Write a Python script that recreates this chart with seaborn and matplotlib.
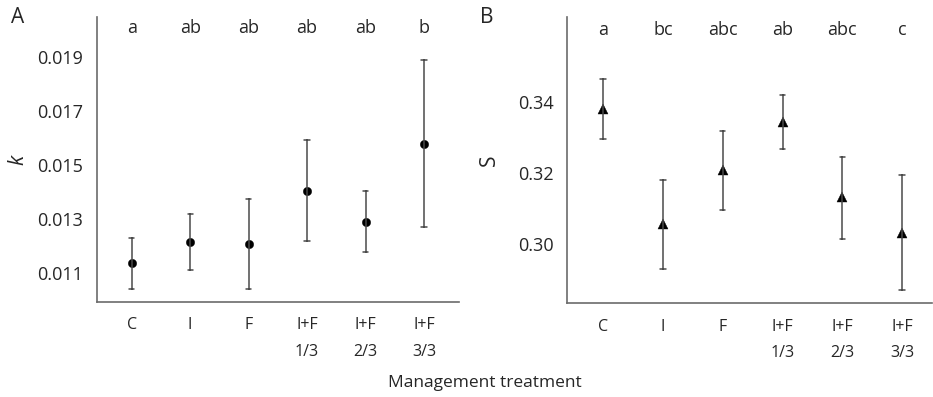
import pandas as pd
import matplotlib.pyplot as plt
import matplotlib.transforms as mtransforms
import seaborn as sns

# -----------------------------
# Data
# -----------------------------
treatments = ["C", "I", "F", "I+F\n1/3", "I+F\n2/3", "I+F\n3/3"]

k_mean = [0.01137, 0.01214, 0.01207, 0.01405, 0.01290, 0.01578]
k_low = [0.01043, 0.01111, 0.01041, 0.01218, 0.01179, 0.01270]
k_high = [0.01231, 0.01320, 0.01374, 0.01593, 0.01404, 0.01886]
k_letters = ["a", "ab", "ab", "ab", "ab", "b"]

s_mean = [0.3381, 0.3055, 0.3208, 0.3345, 0.3131, 0.3031]
s_low = [0.3296, 0.2928, 0.3094, 0.3268, 0.3014, 0.2868]
s_high = [0.3466, 0.3180, 0.3317, 0.3419, 0.3245, 0.3194]
s_letters = ["a", "bc", "abc", "ab", "abc", "c"]

k_ticks = [0.011, 0.013, 0.015, 0.017, 0.019]
s_ticks = [0.30, 0.32, 0.34]

sns.set_style("white")
plt.rcParams['font.family'] = ['Open Sans', 'DejaVu Sans']

spine_col = "#6b6b6b"
err_col = "#4a4a4a"


def long_table(low, mid, high):
    # three rows per treatment: median -> point, min/max -> error bar
    rows = []
    for t, lo, m, hi in zip(treatments, low, mid, high):
        for v in (lo, m, hi):
            rows.append({"treatment": t, "value": v})
    return pd.DataFrame(rows)


def draw_panel(ax, df, marker, msize, letters, ylim, yticks, fmt,
               ylabel, ylabel_style, labelpad, xlim, letter_y):
    sns.pointplot(data=df, x="treatment", y="value", order=treatments,
                  estimator="median", errorbar=lambda v: (v.min(), v.max()),
                  linestyle="none", marker=marker, markersize=msize,
                  markeredgewidth=0.3, color="black", capsize=0.09,
                  err_kws={"color": err_col, "linewidth": 1.1}, ax=ax)
    ax.set_ylim(*ylim)
    ax.set_xlim(*xlim)
    ax.set_yticks(yticks)
    ax.set_yticklabels([fmt.format(t) for t in yticks], fontsize=13)
    ax.set_xticks(range(len(treatments)))
    ax.set_xticklabels(treatments, fontsize=11.5, linespacing=1.9, va="top")
    ax.set_xlabel("")
    ax.set_ylabel(ylabel, fontsize=15, style=ylabel_style, labelpad=labelpad)
    for side in ["top", "right"]:
        ax.spines[side].set_visible(False)
    for side in ["left", "bottom"]:
        ax.spines[side].set_color(spine_col)
        ax.spines[side].set_linewidth(1.2)
    ax.tick_params(axis="y", length=0, pad=10)
    ax.tick_params(axis="x", length=4, width=1, color=spine_col, pad=7, direction="out")
    trans = mtransforms.blended_transform_factory(ax.transData, ax.transAxes)
    for i, lab in enumerate(letters):
        ax.text(i, letter_y, lab, transform=trans, ha="center", va="center", fontsize=13)


fig = plt.figure(figsize=(9.33, 3.97), dpi=100)
ax1 = fig.add_axes([0.1036, 0.2393, 0.3884, 0.7177])
ax2 = fig.add_axes([0.6080, 0.2360, 0.3910, 0.7204])

draw_panel(ax1, long_table(k_low, k_mean, k_high), "o", 6, k_letters,
           (0.00994, 0.02046), k_ticks, "{:.3f}", "k", "italic", 6,
           (-0.6, 5.6), 0.962)
draw_panel(ax2, long_table(s_low, s_mean, s_high), "^", 7.5, s_letters,
           (0.2831, 0.3640), s_ticks, "{:.2f}", "S", "normal", 13,
           (-0.6, 5.5), 0.955)

fig.text(0.012, 0.955, "A", fontsize=15, va="center")
fig.text(0.515, 0.955, "B", fontsize=15, va="center")
fig.text(0.52, 0.035, "Management treatment", fontsize=12.5, ha="center", va="center")

fig.savefig("out.png", dpi=100)
